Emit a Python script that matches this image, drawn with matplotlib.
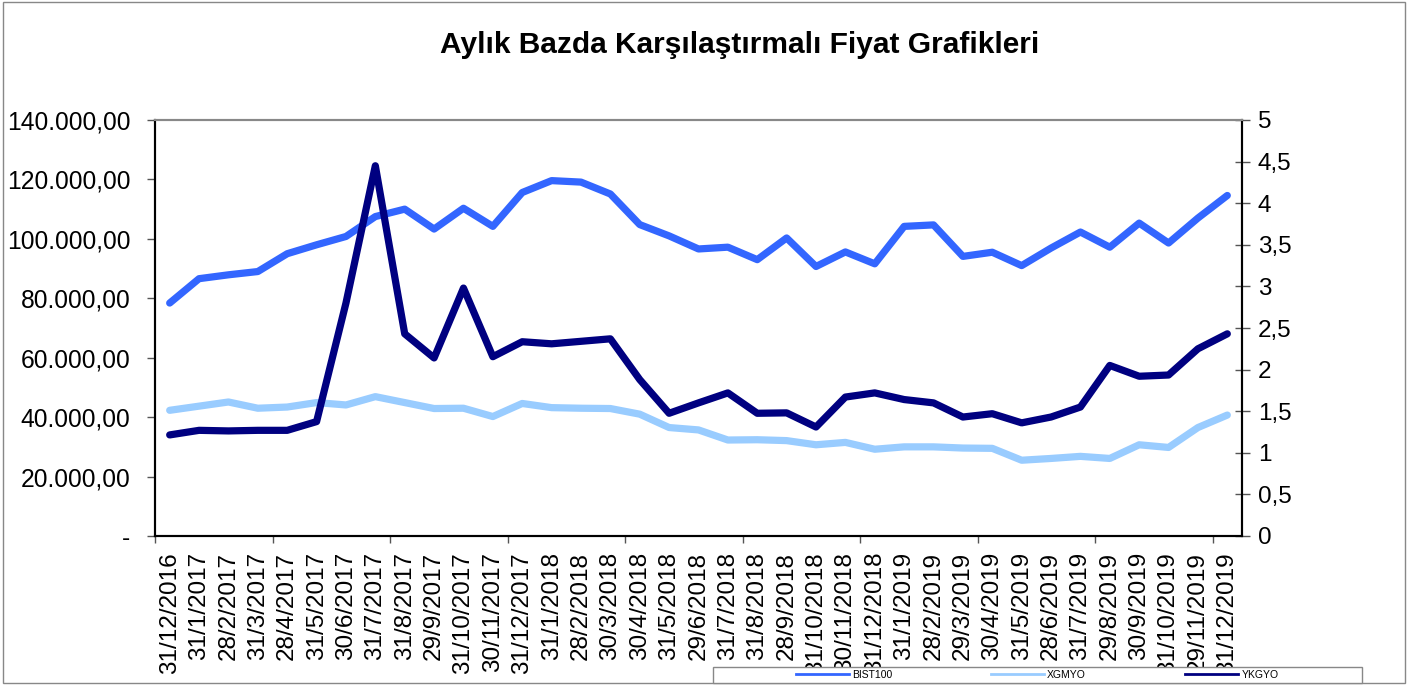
import matplotlib
matplotlib.use('Agg')
import matplotlib.pyplot as plt
from matplotlib.ticker import FuncFormatter
from matplotlib.lines import Line2D
from matplotlib.patches import Rectangle
import numpy as np

plt.rcParams['font.family'] = ['Liberation Sans', 'DejaVu Sans']

title = "Aylık Bazda Karşılaştırmalı Fiyat Grafikleri"

dates = ["31/12/2016", "31/1/2017", "28/2/2017", "31/3/2017", "28/4/2017", "31/5/2017",
         "30/6/2017", "31/7/2017", "31/8/2017", "29/9/2017", "31/10/2017", "30/11/2017",
         "31/12/2017", "31/1/2018", "28/2/2018", "30/3/2018", "30/4/2018", "31/5/2018",
         "29/6/2018", "31/7/2018", "31/8/2018", "28/9/2018", "31/10/2018", "30/11/2018",
         "31/12/2018", "31/1/2019", "28/2/2019", "29/3/2019", "30/4/2019", "31/5/2019",
         "28/6/2019", "31/7/2019", "29/8/2019", "30/9/2019", "31/10/2019", "29/11/2019",
         "31/12/2019"]

bist100 = [78400, 86600, 87900, 89000, 95000, 98000, 100800, 107500, 110000, 103300,
           110300, 104200, 115600, 119600, 119100, 115100, 104800, 101000, 96600, 97200,
           93000, 100300, 90700, 95600, 91600, 104200, 104700, 94100, 95500, 91000,
           96900, 102300, 97200, 105300, 98600, 107000, 114600]

xgmyo = [42300, 43700, 45100, 43000, 43400, 44900, 44100, 46900, 44900, 42900,
         43000, 40200, 44600, 43200, 43000, 42900, 41000, 36500, 35700, 32300,
         32400, 32100, 30700, 31500, 29200, 30000, 30000, 29600, 29500, 25500,
         26100, 26800, 26100, 30700, 29800, 36500, 40700]

ykgyo = [1.215, 1.27, 1.263, 1.27, 1.27, 1.375, 2.80, 4.45, 2.43, 2.14,
         2.98, 2.155, 2.335, 2.31, 2.34, 2.37, 1.88, 1.475, 1.60, 1.72,
         1.475, 1.48, 1.31, 1.67, 1.72, 1.64, 1.60, 1.43, 1.47, 1.36,
         1.43, 1.55, 2.05, 1.92, 1.935, 2.25, 2.43]

series_names = ["BIST100", "XGMYO", "YKGYO"]
colors = ["#3366FF", "#99CCFF", "#000080"]

W, H = 1417, 685
fig = plt.figure(figsize=(W / 100, H / 100), dpi=100)
ax = fig.add_axes([155 / W, 1 - 536 / H, (1242 - 155) / W, (536 - 120) / H])
ax2 = ax.twinx()

x = np.arange(len(dates))
kw = dict(lw=5.2, solid_capstyle='round', solid_joinstyle='round')
ax.plot(x, bist100, color=colors[0], **kw)
ax.plot(x, xgmyo, color=colors[1], **kw)
ax2.plot(x, ykgyo, color=colors[2], **kw)

ax.set_xlim(-0.5, len(dates) - 0.5)
ax.set_ylim(0, 140000)
ax2.set_ylim(0, 5)

ax.set_yticks(np.arange(0, 140001, 20000))
ax.yaxis.set_major_formatter(FuncFormatter(
    lambda v, p: '-' if v == 0 else f"{int(round(v)):,}".replace(',', '.') + ',00'))
ax2.set_yticks(np.arange(0, 5.01, 0.5))
ax2.yaxis.set_major_formatter(FuncFormatter(lambda v, p: f"{v:g}".replace('.', ',')))

ax.set_xticks(x)
ax.set_xticklabels(dates, rotation=90, fontsize=17.5)
ax.set_xticks(np.arange(-0.5, len(dates), 4), minor=True)
ax.tick_params(axis='x', which='major', length=0, pad=11.5)
ax.tick_params(axis='x', which='minor', length=5, width=1, color='#555555', direction='out')
ax.tick_params(axis='y', labelsize=17.7, length=5.8, width=1, color='#555555', direction='out', pad=12)
ax2.tick_params(axis='y', labelsize=17.5, length=10.8, width=1, color='#555555', direction='inout', pad=6)

for a in (ax, ax2):
    a.spines['top'].set_color('#888888')
    a.spines['top'].set_linewidth(1.5)
    for s in ('left', 'right', 'bottom'):
        a.spines[s].set_color('black')
        a.spines[s].set_linewidth(1.5)

fig.text(740 / W, 1 - 45 / H, title, ha='center', va='center', fontsize=21.5, fontweight='bold')

# outer border
fig.patches.append(Rectangle((3 / W, 2 / H), (1405 - 3) / W, (683 - 2) / H,
                             transform=fig.transFigure, fill=False,
                             edgecolor='#888888', lw=1, zorder=1))
# legend box (covers the ends of the tick labels, as in the original)
fig.patches.append(Rectangle((713 / W, 1 - 683 / H), (1362 - 713) / W, (683 - 667) / H,
                             transform=fig.transFigure, facecolor='white',
                             edgecolor='#888888', lw=1, zorder=4))
handles = [Line2D([], [], color=c, lw=2) for c in colors]
leg = fig.legend(handles, series_names, loc='center', bbox_to_anchor=(1037 / W, 1 - 675 / H),
                 ncol=3, frameon=False, fontsize=7.5, handlelength=5.1, handletextpad=0.3,
                 columnspacing=9.5, borderpad=0)
leg.set_zorder(5)

fig.savefig('out.png', dpi=100)
